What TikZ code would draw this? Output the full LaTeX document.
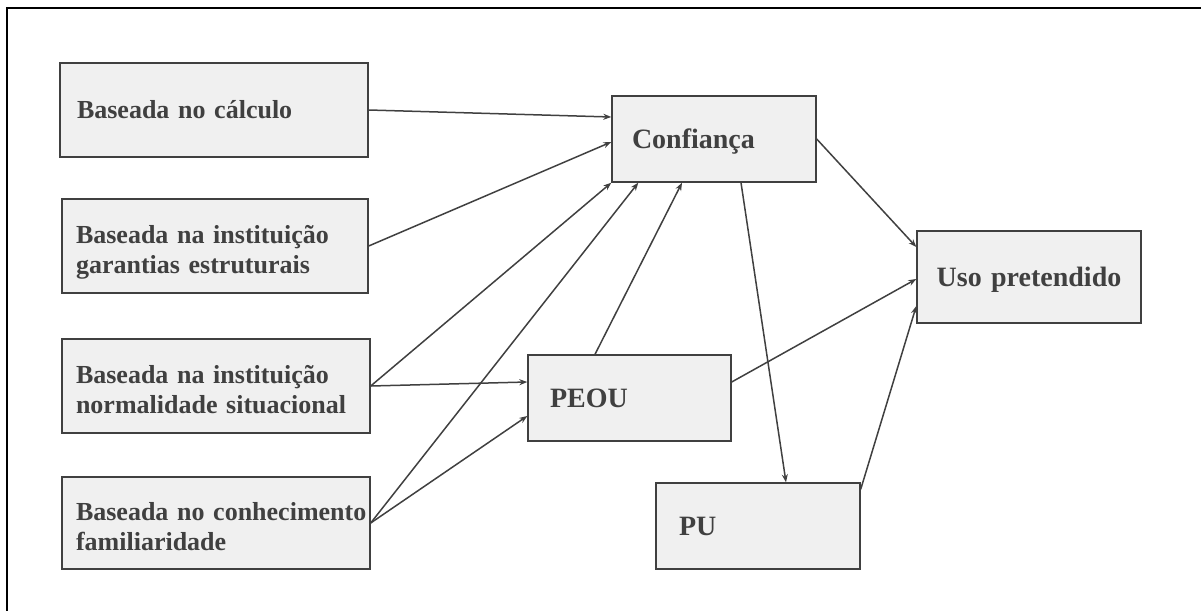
\documentclass[tikz,border=0pt]{standalone}
\usepackage{fontspec}
\setmainfont{Liberation Serif}
\usetikzlibrary{arrows.meta,calc}
\definecolor{ink}{HTML}{404040}
\definecolor{boxfill}{HTML}{F0F0F0}
% indent for a line of text inside a box
\newcommand\indl[1]{\hspace*{#1pt}}
\begin{document}
\begin{tikzpicture}[x=1pt,y=-1pt,
  box/.style 2 args={draw=ink, line width=1.4pt, fill=boxfill, text=ink,
    minimum width=#1pt, minimum height=#2pt, text width=#1pt,
    inner xsep=0pt, inner ysep=0pt, align=left},
  leftfont/.style={font=\fontsize{26}{30}\selectfont\bfseries, text height=17pt},
  rightfont/.style={font=\fontsize{28}{32}\selectfont\bfseries, text height=18.5pt, text depth=0pt},
  link/.style={draw=ink, line width=1.5pt, -{Stealth[length=8pt,width=6pt]}}
]
\useasboundingbox (0,0) rectangle (1201,610);

% outer frame (top and left edges)
\draw[line width=2pt, black] (7,612) -- (7,8) -- (1203,8);

% antecedents of trust
\node[box={308}{94}, leftfont, text depth=0pt] (b1) at (214,110)
  {\indl{17}Baseada no cálculo};
\node[box={306}{94}, leftfont, text depth=22pt] (b2) at (215,246)
  {\indl{14}Baseada na instituição\\\indl{14}garantias estruturais};
\node[box={308}{94}, leftfont, text depth=22pt] (b3) at (216,386)
  {\indl{14}Baseada na instituição\\\indl{14}normalidade situacional};
\node[box={308}{92}, leftfont, text depth=22pt] (b4) at (216,523)
  {\indl{14}Baseada no conhecimento\\\indl{14}familiaridade};

% constructs
\node[box={204}{86}, rightfont] (conf) at (714,139) {\indl{20}Confiança};
\node[box={203}{86}, rightfont] (peou) at (629.5,398) {\indl{22}PEOU};
\node[box={204}{86}, rightfont] (pu) at (758,526) {\indl{23}PU};
\node[box={224}{92}, rightfont, align=center] (uso) at (1029,277) {Uso pretendido};

% relations
\draw[link] (b1.east) -- ([yshift=22pt]conf.west);
\draw[link] (b2.east) -- ([yshift=-3pt]conf.west);
\draw[link] (b3.east) -- (conf.south west);
\draw[link] (b4.east) -- ([xshift=27pt]conf.south west);
\draw[link] (b3.east) -- ([yshift=16pt]peou.west);
\draw[link] (b4.east) -- ([yshift=-18pt]peou.west);
\draw[link] ([xshift=-34.5pt]peou.north) -- ([xshift=-32pt]conf.south);
\draw[link] ([xshift=27pt]conf.south) -- ([xshift=28pt]pu.north);
\draw[link] (conf.east) -- ([yshift=30pt]uso.west);
\draw[link] ([yshift=16pt]peou.east) -- ([yshift=-2pt]uso.west);
\draw[link] ([yshift=-7pt]pu.north east) -- ([yshift=-29pt]uso.west);
\end{tikzpicture}
\end{document}
